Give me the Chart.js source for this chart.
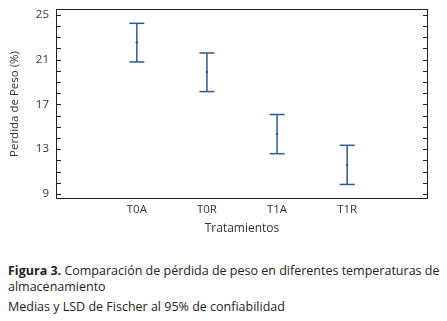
<!DOCTYPE html>
<html>
<head>
<meta charset="utf-8">
<script src="https://cdn.jsdelivr.net/npm/chart.js@4.4.1/dist/chart.umd.min.js"></script>
<style>
  body { margin: 0; background: #fff; font-family: "Open Sans", sans-serif; }
  #wrap { position: absolute; left: 0; top: 0; width: 447px; height: 240px; }
  #caption { position: absolute; left: 8px; top: 263px; font-size: 12.5px; color: #222; line-height: 16px; white-space: nowrap; }
  #caption p { margin: 0; }
  #caption .note { margin-top: 4px; }
</style>
</head>
<body>
<div id="wrap"><canvas id="chartLSD"></canvas></div>
<div id="caption">
  <p><b>Figura 3.</b> Comparación de pérdida de peso en diferentes temperaturas de<br>almacenamiento</p>
  <p class="note">Medias y LSD de Fischer al 95% de confiabilidad</p>
</div>
<script>
    // data
    const treatments = ['T0A', 'T0R', 'T1A', 'T1R']
    const means = [22.55, 19.9, 14.35, 11.6]
    const lower = [20.8, 18.15, 12.6, 9.85]
    const upper = [24.25, 21.6, 16.1, 13.35]
    const yLabels = [9, 13, 17, 21, 25]

    const barColor = '#2c5996'

    document.addEventListener("DOMContentLoaded", function() {

        const datasets = []

        // one vertical interval per treatment, caps drawn as 'line' point style
        treatments.forEach((t, i) => {
            datasets.push({
                type: 'line',
                data: [{ x: i, y: lower[i] }, { x: i, y: upper[i] }],
                borderColor: barColor,
                borderWidth: 1.5,
                pointStyle: 'line',
                pointRadius: 7.5,
                pointBorderColor: barColor,
                pointBorderWidth: 1.5,
                showLine: true
            })
        })

        datasets.push({
            type: 'scatter',
            data: means.map((m, i) => ({ x: i, y: m })),
            pointRadius: 1.2,
            pointBackgroundColor: '#3a3a6a',
            pointBorderWidth: 0
        })

        // frame + inward ticks
        const frameTicks = {
            id: 'frameTicks',
            afterDraw(chart) {
                const ctx = chart.ctx
                const a = chart.chartArea
                const y = chart.scales.y
                ctx.save()
                ctx.strokeStyle = '#222'
                ctx.lineWidth = 1
                ctx.strokeRect(a.left + 0.5, a.top + 0.5, a.right - a.left - 1, a.bottom - a.top - 1)
                ctx.beginPath()
                for (let v = 9; v <= 25; v++) {
                    let py = Math.round(y.getPixelForValue(v)) + 0.5
                    ctx.moveTo(a.left, py)
                    ctx.lineTo(a.left + 5, py)
                    ctx.moveTo(a.right, py)
                    ctx.lineTo(a.right - 5, py)
                }
                ctx.stroke()
                ctx.restore()
            }
        }

        new Chart(document.getElementById('chartLSD').getContext('2d'), {
            type: 'scatter',
            data: { datasets: datasets },
            plugins: [frameTicks],
            options: {
                responsive: true,
                maintainAspectRatio: false,
                animation: false,
                layout: { padding: { top: 4, right: 19, left: 0, bottom: 0 } },
                plugins: {
                    legend: { display: false },
                    tooltip: { enabled: false }
                },
                scales: {
                    x: {
                        type: 'linear',
                        min: -1.153,
                        max: 4.153,
                        grid: { display: false, drawTicks: false },
                        border: { display: false },
                        afterBuildTicks: (scale) => { scale.ticks = treatments.map((t, i) => ({ value: i })) },
                        afterFit: (scale) => { scale.height = 41 },
                        ticks: {
                            autoSkip: false,
                            maxRotation: 0,
                            padding: 4,
                            color: '#333',
                            font: { family: 'Open Sans', size: 11.5 },
                            callback: (v) => treatments[v]
                        },
                        title: {
                            display: true,
                            text: 'Tratamientos',
                            color: '#333',
                            padding: { top: 0, bottom: 4 },
                            font: { family: 'Open Sans', size: 12 }
                        }
                    },
                    y: {
                        min: 8.55,
                        max: 25.53,
                        grid: { display: false, drawTicks: false },
                        border: { display: false },
                        afterBuildTicks: (scale) => { scale.ticks = yLabels.map(v => ({ value: v })) },
                        afterFit: (scale) => { scale.width = 56; scale.paddingTop = 0; scale.paddingBottom = 0 },
                        ticks: {
                            padding: 7,
                            color: '#333',
                            font: { family: 'Open Sans', size: 11.5 }
                        },
                        title: {
                            display: true,
                            text: 'Perdida de Peso (%)',
                            color: '#333',
                            padding: { top: 8, bottom: 0 },
                            font: { family: 'Open Sans', size: 11.5 }
                        }
                    }
                }
            }
        })
    })
</script>
</body>
</html>
